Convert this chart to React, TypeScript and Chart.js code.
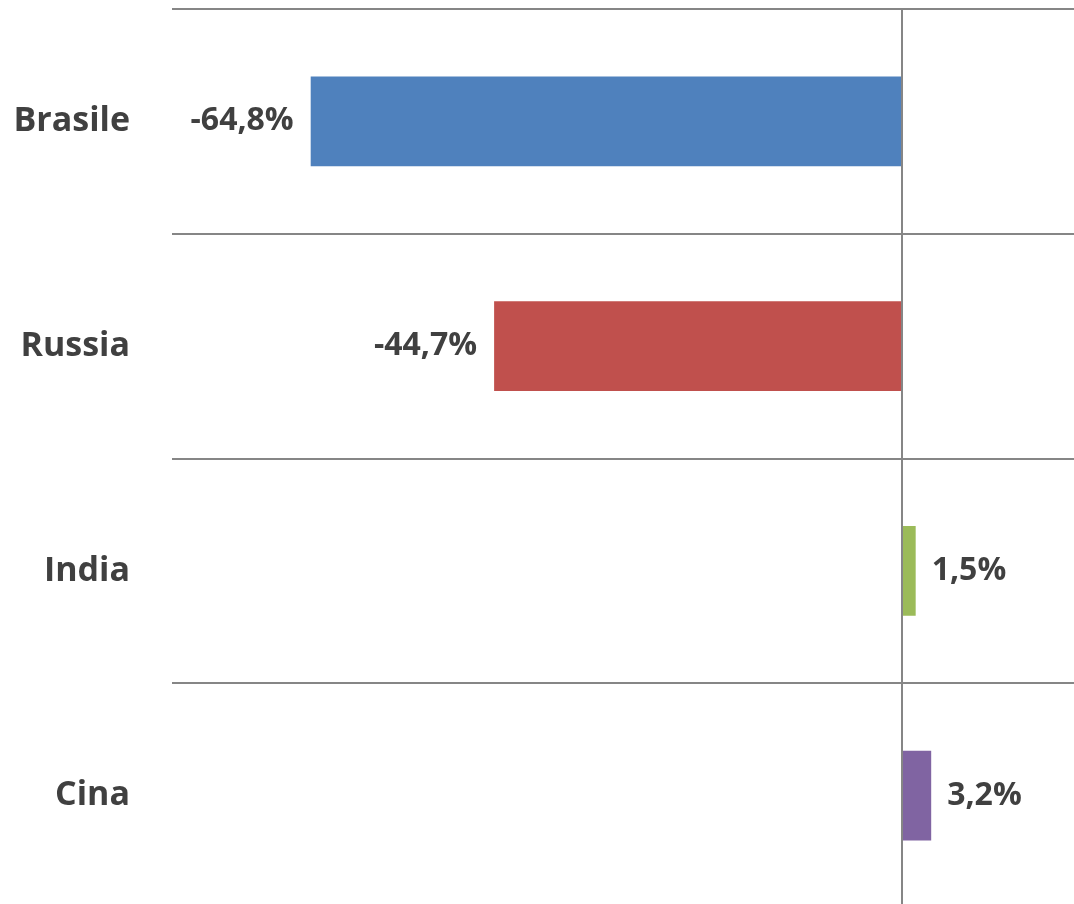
import React, { useEffect, useRef } from "react";
import { Chart, registerables } from "chart.js";

Chart.register(...registerables);

const categories = ["Brasile", "Russia", "India", "Cina"];
const values = [-64.8, -44.7, 1.5, 3.2];
const valueLabels = ["-64,8%", "-44,7%", "1,5%", "3,2%"];
const barColors = ["#4F81BD", "#C0504D", "#9BBB59", "#8064A2"];

const FONT = "'Open Sans', sans-serif";
const TEXT_COLOR = "#404040";
const GRID_COLOR = "#868686";

const labelPlugin = {
  id: "valueLabels",
  afterDatasetsDraw(chart: any) {
    const ctx = chart.ctx;
    const meta = chart.getDatasetMeta(0);
    ctx.save();
    ctx.font = `bold 32px ${FONT}`;
    ctx.fillStyle = TEXT_COLOR;
    ctx.textBaseline = "middle";
    meta.data.forEach((el: any, i: number) => {
      const v = values[i];
      if (v < 0) {
        ctx.textAlign = "right";
        ctx.fillText(valueLabels[i], el.x - 17, el.y);
      } else {
        ctx.textAlign = "left";
        ctx.fillText(valueLabels[i], el.x + 16, el.y);
      }
    });
    ctx.restore();
  },
};

export default function App() {
  const ref = useRef<HTMLCanvasElement | null>(null);
  useEffect(() => {
    if (!ref.current) return;
    const chart = new Chart(ref.current, {
      type: "bar",
      data: {
        labels: categories,
        datasets: [
          {
            data: values,
            backgroundColor: barColors,
            borderWidth: 0,
            barPercentage: 0.4,
            categoryPercentage: 1,
          },
        ],
      },
      options: {
        indexAxis: "y",
        responsive: false,
        animation: false,
        layout: { padding: { top: 9, left: 0, right: 0, bottom: 0 } },
        plugins: {
          legend: { display: false },
          tooltip: { enabled: false },
        },
        scales: {
          x: {
            min: -80,
            max: 18.85,
            ticks: { display: false, stepSize: 10 },
            border: { display: false },
            grid: {
              drawTicks: false,
              lineWidth: 2,
              color: (c: any) => (c.tick && c.tick.value === 0 ? GRID_COLOR : "rgba(0,0,0,0)"),
            },
            afterFit: (scale: any) => {
              scale.height = 0;
              scale.paddingLeft = 0;
              scale.paddingRight = 0;
            },
          },
          y: {
            border: { display: false },
            grid: {
              offset: true,
              drawTicks: false,
              lineWidth: 2,
              color: GRID_COLOR,
            },
            ticks: {
              padding: 42,
              color: TEXT_COLOR,
              font: { family: FONT, weight: "bold", size: 34 },
            },
            afterFit: (scale: any) => {
              scale.width = 172;
              scale.paddingTop = 0;
              scale.paddingBottom = 0;
            },
          },
        },
      },
      plugins: [labelPlugin],
    });
    return () => chart.destroy();
  }, []);
  return (
    <div
      style={{
        position: "absolute",
        top: 0,
        left: 0,
        width: 1074,
        height: 904,
        overflow: "hidden",
        background: "#fff",
      }}
    >
      <canvas ref={ref} width={1074} height={908} style={{ display: "block" }} />
    </div>
  );
}
